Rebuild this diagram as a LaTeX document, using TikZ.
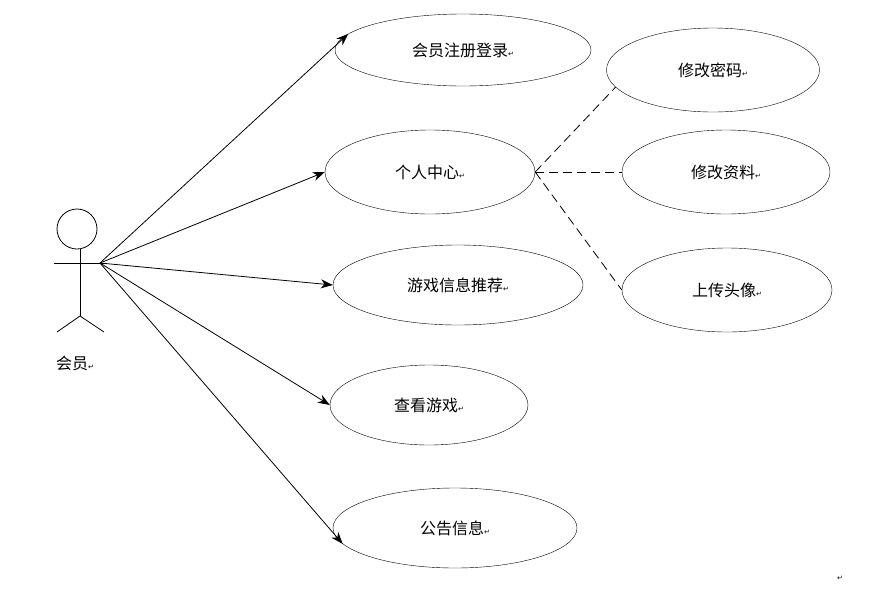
\documentclass[tikz,border=0pt]{standalone}
\usepackage{fontspec}
\setmainfont{Noto Sans CJK SC}
\newfontfamily\symfont{DejaVu Sans}
\usetikzlibrary{arrows.meta,shapes.geometric}
\newcommand{\ret}{{\symfont\fontsize{7}{7}\selectfont ↵}}

\begin{document}
\begin{tikzpicture}[x=1pt,y=-1pt,
    usecase/.style={draw, ellipse, minimum height=80pt, inner sep=0pt, font=\fontsize{16}{18}\selectfont},
    assoc/.style={-{Stealth[length=12pt,width=9pt]}, thick},
    incl/.style={dashed, thick, dash pattern=on 9pt off 5pt}]
    \useasboundingbox (0,0) rectangle (879,595);
    % Actor
    \draw[thick] (77,229) circle (20);
    \draw[thick] (80,249) -- (80,316);
    \draw[thick] (54,263) -- (106,263);
    \draw[thick] (80,316) -- (57,332);
    \draw[thick] (80,316) -- (104,332);
    \coordinate (member) at (100,263);
    \node[font=\fontsize{16}{18}\selectfont] (member-label) at (75,363) {会员\ret};

    % Use cases
    \node[usecase, minimum width=256pt, minimum height=72pt] (register) at (463,50) {会员注册登录\ret};
    \node[usecase, minimum width=210pt, minimum height=84pt] (center) at (430,172) {个人中心\ret};
    \node[usecase, minimum width=250pt] (recommend) at (458,285) {游戏信息推荐\ret};
    \node[usecase, minimum width=198pt] (view) at (429,405) {查看游戏\ret};
    \node[usecase, minimum width=244pt] (notice) at (455,528) {公告信息\ret};

    \node[usecase, minimum width=213pt, minimum height=84pt] (password) at (713,70) {修改密码\ret};
    \node[usecase, minimum width=208pt, minimum height=84pt] (profile) at (726,172) {修改资料\ret};
    \node[usecase, minimum width=210pt, minimum height=84pt] (avatar) at (727,290) {上传头像\ret};

    % Associations
    \draw[assoc] (member) -- (register.172);
    \draw[assoc] (member) -- (center.west);
    \draw[assoc] (member) -- (recommend.west);
    \draw[assoc] (member) -- (view.west);
    \draw[assoc] (member) -- (notice.188);

    % Sub-functions
    \draw[incl] (center.east) -- (password.190);
    \draw[incl] (center.east) -- (profile.west);
    \draw[incl] (center.east) -- (avatar.west);

    \node (end-mark) at (840,578) {\ret};
\end{tikzpicture}
\end{document}
